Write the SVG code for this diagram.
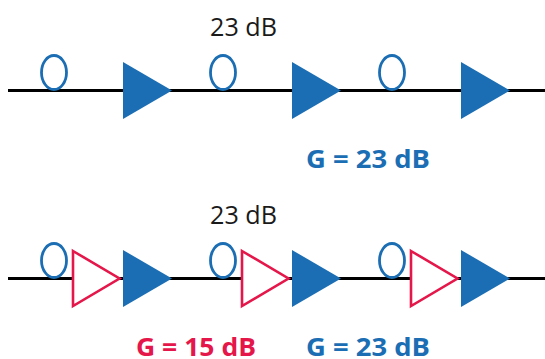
<svg xmlns="http://www.w3.org/2000/svg" width="545" height="359" viewBox="0 0 545 359">
<style>
.line{stroke:#000;stroke-width:3;fill:none}
.coil{fill:none;stroke:#1b6eb3;stroke-width:2.8}
.amp{fill:#1b6eb3}
.pre{fill:#fff;stroke:#e5174a;stroke-width:2.6;stroke-linejoin:miter}
.lbl{font-family:"Open Sans","Noto Sans",sans-serif;font-size:26px;fill:#1a1a1a}
.gb{font-family:"Open Sans","Noto Sans",sans-serif;font-size:25px;font-weight:bold;fill:#1b6eb3}
.gr{font-family:"Open Sans","Noto Sans",sans-serif;font-size:25px;font-weight:bold;fill:#e5174a}
</style>
<defs>
<ellipse id="c" cx="0" cy="0" rx="12.5" ry="17" class="coil"/>
<polygon id="a" points="0,-28.5 49,0 0,28.5" class="amp"/>
<polygon id="p" points="0,-27.5 46.5,0 0,27.5" class="pre"/>
</defs>
<g id="connectors">
<line class="line" x1="8" y1="90.5" x2="545" y2="90.5"/>
<line class="line" x1="8" y1="278.5" x2="545" y2="278.5"/>
</g>
<g id="top-row">
<g id="t1"><use href="#c" x="54" y="72.5"/><use href="#a" x="123" y="90.5"/></g>
<g id="t2"><use href="#c" x="223" y="72.5"/><use href="#a" x="292" y="90.5"/></g>
<g id="t3"><use href="#c" x="392" y="72.5"/><use href="#a" x="461" y="90.5"/></g>
<text class="lbl" x="210" y="36" textLength="67" lengthAdjust="spacingAndGlyphs">23 dB</text>
<text class="gb" x="306" y="167.5" textLength="124" lengthAdjust="spacingAndGlyphs">G = 23 dB</text>
</g>
<g id="bottom-row">
<g id="b1"><use href="#c" x="54" y="260.5"/><use href="#p" x="73" y="278.5"/><use href="#a" x="123" y="278.5"/></g>
<g id="b2"><use href="#c" x="223" y="260.5"/><use href="#p" x="242" y="278.5"/><use href="#a" x="292" y="278.5"/></g>
<g id="b3"><use href="#c" x="392" y="260.5"/><use href="#p" x="411" y="278.5"/><use href="#a" x="461" y="278.5"/></g>
<text class="lbl" x="210" y="224" textLength="67" lengthAdjust="spacingAndGlyphs">23 dB</text>
<text class="gr" x="136" y="355.5" textLength="120" lengthAdjust="spacingAndGlyphs">G = 15 dB</text>
<text class="gb" x="306" y="355.5" textLength="124" lengthAdjust="spacingAndGlyphs">G = 23 dB</text>
</g>
</svg>
